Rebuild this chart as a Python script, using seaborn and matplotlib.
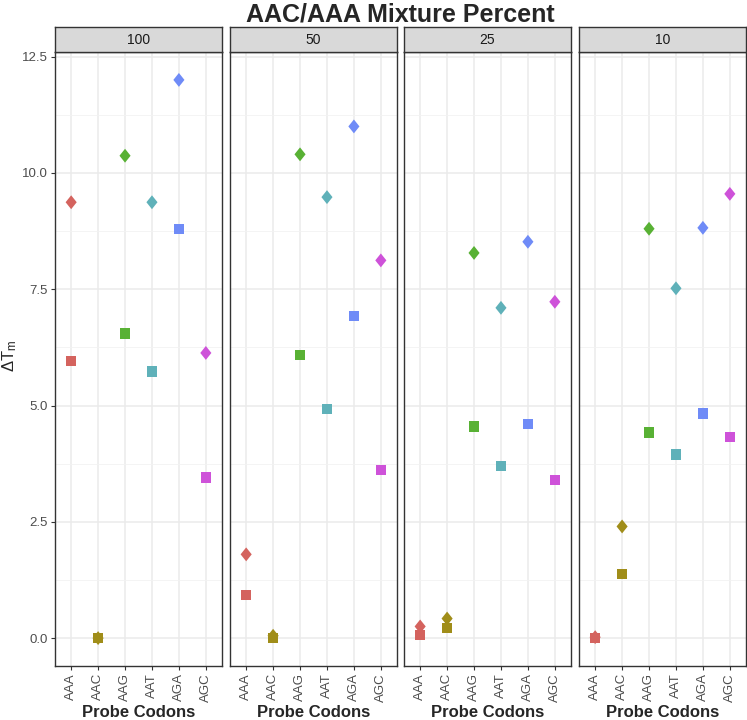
#!/usr/bin/env python3

import pandas as pd
import matplotlib.pyplot as plt
import seaborn as sns
import numpy as np
from matplotlib.path import Path

# data
mixtures = ["100", "50", "25", "10"]
codons = ["AAA", "AAC", "AAG", "AAT", "AGA", "AGC"]

diamond_vals = {
    "100": [9.37, 0.00, 10.37, 9.37, 12.00, 6.13],
    "50": [1.80, 0.05, 10.40, 9.48, 11.00, 8.12],
    "25": [0.25, 0.42, 8.28, 7.10, 8.52, 7.23],
    "10": [0.02, 2.40, 8.80, 7.52, 8.82, 9.55],
}
square_vals = {
    "100": [5.95, 0.00, 6.55, 5.73, 8.80, 3.45],
    "50": [0.92, 0.00, 6.08, 4.92, 6.93, 3.62],
    "25": [0.07, 0.22, 4.55, 3.70, 4.60, 3.40],
    "10": [0.00, 1.38, 4.42, 3.95, 4.83, 4.32],
}

palette = ["#D4635E", "#A08D19", "#58B134", "#5FB1B9", "#6F8BF7", "#CE52D9"]

# ggplot-like filled diamond (slightly taller than wide)
diamond = Path([(0, 1), (0.8, 0), (0, -1), (-0.8, 0), (0, 1)],
               [Path.MOVETO, Path.LINETO, Path.LINETO, Path.LINETO, Path.CLOSEPOLY])


def build_df():
    rows = []
    for m in mixtures:
        for kind, vals in (("diamond", diamond_vals[m]), ("square", square_vals[m])):
            for c, v in zip(codons, vals):
                rows.append({"mixture": m, "codon": c, "kind": kind, "dTm": v})
    return pd.DataFrame(rows)


df = build_df()

sns.set_theme(style="white")
plt.rcParams["font.family"] = ["Liberation Sans", "DejaVu Sans"]
plt.rcParams["mathtext.fontset"] = "custom"
plt.rcParams["mathtext.rm"] = "Liberation Sans"
plt.rcParams["mathtext.it"] = "Liberation Sans"

fig = plt.figure(figsize=(7.47, 7.2), dpi=100)
W, H = 747, 720
lefts = [55, 230, 404, 579]
pw = 167
top, bottom = 52, 666
strip_h = 25

for i, m in enumerate(mixtures):
    ax = fig.add_axes([lefts[i] / W, (H - bottom) / H, pw / W, (bottom - top) / H])
    sub = df[df["mixture"] == m]
    for kind, mk, sz in (("diamond", diamond, 100), ("square", "s", 55)):
        part = sub[sub["kind"] == kind]
        sns.scatterplot(data=part, x="codon", y="dTm", hue="codon", hue_order=codons,
                        palette=palette, marker=mk, s=sz, linewidth=0, ax=ax,
                        legend=False, zorder=3)
    ax.set_xlim(-0.6, 5.6)
    ax.set_ylim(-0.6, 12.6)
    ax.set_xticks(range(len(codons)))
    ax.set_xticklabels(codons, rotation=90, fontsize=9.5, color="#4D4D4D")
    ax.set_yticks(np.arange(0, 12.6, 2.5))
    ax.set_yticks(np.arange(1.25, 12.6, 2.5), minor=True)
    ax.grid(True, which="major", color="#EBEBEB", linewidth=1.1)
    ax.grid(True, which="minor", axis="y", color="#F2F2F2", linewidth=0.6)
    ax.set_axisbelow(True)
    for sp in ax.spines.values():
        sp.set_color("#333333")
        sp.set_linewidth(1.0)
    ax.tick_params(axis="both", which="major", length=3, width=0.8, color="#333333",
                   bottom=True, left=True, pad=2)
    ax.tick_params(axis="y", which="minor", length=0)
    ax.set_xlabel("")
    ax.set_ylabel("")
    if i == 0:
        ax.set_yticklabels([f"{v:.1f}" for v in np.arange(0, 12.6, 2.5)],
                           fontsize=9.5, color="#4D4D4D")
    else:
        ax.set_yticklabels([])
        ax.tick_params(axis="y", which="major", length=0)

    fig.text((lefts[i] + pw / 2) / W, 3 / H, "Probe Codons", ha="center",
             va="baseline", fontsize=12, fontweight="bold")

    # facet strip
    sax = fig.add_axes([lefts[i] / W, (H - top) / H, pw / W, strip_h / H])
    sax.set_facecolor("#D9D9D9")
    sax.set_xticks([])
    sax.set_yticks([])
    for sp in sax.spines.values():
        sp.set_color("#333333")
        sp.set_linewidth(1.0)
    sax.text(0.5, 0.5, m, ha="center", va="center", fontsize=10, color="#1A1A1A",
             transform=sax.transAxes)

fig.text(10 / W, (H - 356) / H, r"$\Delta\mathrm{T}_\mathrm{m}$", rotation=90,
         ha="center", va="center", fontsize=12)

fig.text(400 / W, (H - 14) / H, "AAC/AAA Mixture Percent", ha="center", va="center",
         fontsize=18, fontweight="bold")

fig.savefig("out.png", dpi=100)
plt.close(fig)
